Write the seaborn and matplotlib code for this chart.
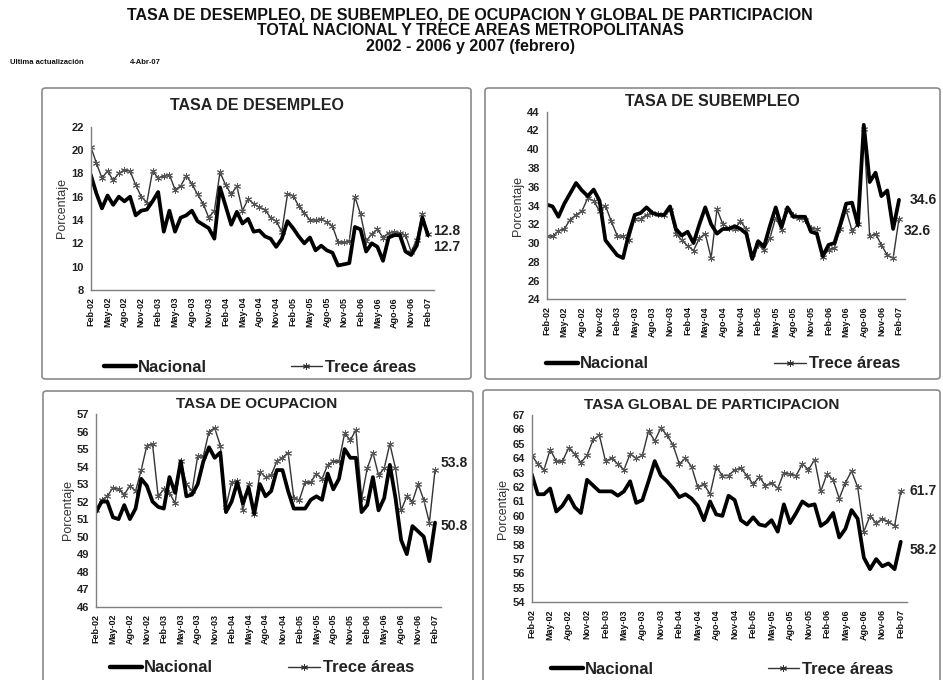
import numpy as np
import pandas as pd
import matplotlib
matplotlib.use("Agg")
import matplotlib.pyplot as plt
import seaborn as sns
from matplotlib.patches import FancyBboxPatch
from matplotlib.lines import Line2D

# Data, monthly Feb-02 .. Feb-07
tick_labels = ['Feb-02', 'May-02', 'Ago-02', 'Nov-02', 'Feb-03', 'May-03', 'Ago-03',
               'Nov-03', 'Feb-04', 'May-04', 'Ago-04', 'Nov-04', 'Feb-05', 'May-05',
               'Ago-05', 'Nov-05', 'Feb-06', 'May-06', 'Ago-06', 'Nov-06', 'Feb-07']

des_nacional = [17.9, 16.3, 15.0, 16.1, 15.3, 16.0, 15.6, 16.0, 14.4, 14.8,
                14.9, 15.6, 16.4, 13.0, 14.8, 13.0, 14.2, 14.4, 14.8, 13.9,
                13.6, 13.3, 12.4, 16.8, 15.2, 13.6, 14.7, 13.7, 14.1, 13.0,
                13.1, 12.6, 12.4, 11.7, 12.4, 13.9, 13.3, 12.6, 12.0, 12.5,
                11.4, 11.8, 11.4, 11.2, 10.1, 10.2, 10.3, 13.4, 13.2, 11.3,
                12.0, 11.7, 10.5, 12.5, 12.7, 12.7, 11.3, 11.0, 11.8, 14.2, 12.7]
des_trece = [20.3, 18.9, 17.6, 18.2, 17.4, 18.0, 18.3, 18.2, 17.0, 16.0,
             15.5, 18.2, 17.6, 17.8, 17.9, 16.6, 16.9, 17.8, 17.1, 16.2,
             15.4, 14.2, 14.8, 18.1, 17.0, 16.2, 16.9, 14.8, 15.8, 15.4,
             15.1, 14.9, 14.2, 13.9, 13.0, 16.2, 16.1, 15.2, 14.6, 14.0,
             14.0, 14.1, 13.8, 13.5, 12.1, 12.1, 12.2, 16.0, 14.5, 12.2,
             12.8, 13.2, 12.5, 12.9, 13.0, 12.9, 12.7, 11.3, 12.3, 14.5, 12.8]

sub_nacional = [34.1, 33.9, 32.8, 34.2, 35.3, 36.4, 35.6, 35.0, 35.7, 34.5,
                30.3, 29.5, 28.7, 28.4, 31.0, 33.0, 33.2, 33.8, 33.2, 33.0,
                33.0, 33.9, 31.5, 30.8, 31.2, 30.0, 32.0, 33.8, 32.0, 31.0,
                31.5, 31.5, 31.8, 31.5, 31.0, 28.3, 30.2, 29.6, 31.8, 33.8,
                31.7, 33.8, 32.8, 32.8, 32.8, 31.2, 31.0, 28.6, 29.8, 30.0,
                32.0, 34.2, 34.3, 31.9, 42.6, 36.5, 37.5, 35.0, 35.6, 31.5, 34.6]
sub_trece = [30.8, 30.7, 31.3, 31.5, 32.5, 33.0, 33.4, 34.8, 34.5, 33.4,
             34.0, 32.3, 30.8, 30.7, 30.3, 32.6, 32.6, 33.0, 33.2, 33.1,
             33.0, 33.5, 31.0, 30.3, 29.7, 29.2, 30.5, 31.0, 28.4, 33.6,
             32.0, 31.6, 31.5, 32.3, 31.5, 28.8, 29.8, 29.3, 30.5, 32.7,
             31.4, 33.5, 33.0, 32.7, 32.5, 31.6, 31.5, 28.5, 29.3, 29.5,
             31.5, 33.5, 31.3, 32.0, 42.2, 30.7, 31.0, 29.8, 28.7, 28.4, 32.6]

ocu_nacional = [51.4, 52.0, 52.0, 51.1, 51.0, 51.8, 51.0, 51.6, 53.3, 52.9,
                52.0, 51.7, 51.6, 53.4, 52.5, 54.3, 52.3, 52.4, 53.0, 54.3,
                55.1, 54.5, 54.8, 51.4, 52.0, 53.1, 51.9, 52.8, 51.3, 53.0,
                52.3, 52.6, 53.8, 53.8, 52.6, 51.6, 51.6, 51.6, 52.1, 52.3,
                52.1, 53.6, 52.7, 53.3, 55.0, 54.5, 54.5, 51.4, 51.8, 53.4,
                51.5, 52.2, 54.1, 52.2, 49.8, 49.0, 50.6, 50.3, 50.0, 48.6, 50.8]
ocu_trece = [51.5, 52.1, 52.3, 52.8, 52.7, 52.4, 52.9, 52.6, 53.8, 55.2,
             55.3, 52.3, 52.7, 52.5, 51.9, 54.3, 53.0, 52.6, 54.6, 54.6,
             56.0, 56.2, 55.2, 51.7, 53.1, 53.2, 51.5, 53.0, 51.3, 53.7,
             53.4, 53.5, 54.3, 54.5, 54.8, 52.2, 52.1, 53.1, 53.1, 53.6,
             53.3, 54.1, 54.3, 54.3, 55.9, 55.5, 56.1, 52.2, 53.9, 54.8,
             53.5, 53.9, 55.3, 53.9, 51.5, 52.3, 52.0, 53.0, 52.1, 50.8, 53.8]

glo_nacional = [62.9, 61.5, 61.5, 61.9, 60.3, 60.7, 61.4, 60.6, 60.2, 62.5,
                62.1, 61.7, 61.7, 61.7, 61.4, 61.7, 62.4, 60.9, 61.1, 62.4,
                63.8, 62.8, 62.4, 61.9, 61.3, 61.5, 61.2, 60.7, 59.7, 61.0,
                60.1, 60.0, 61.4, 61.1, 59.7, 59.4, 59.9, 59.4, 59.3, 59.7,
                58.9, 60.8, 59.5, 60.2, 61.0, 60.7, 60.8, 59.3, 59.6, 60.2,
                58.5, 59.1, 60.4, 59.8, 57.1, 56.3, 57.0, 56.5, 56.7, 56.3, 58.2]
glo_trece = [64.2, 63.6, 63.2, 64.6, 63.8, 63.8, 64.7, 64.3, 63.7, 64.2,
             65.3, 65.6, 63.8, 64.0, 63.6, 63.2, 64.3, 64.0, 64.2, 65.9,
             65.2, 66.1, 65.6, 64.9, 63.6, 64.0, 63.4, 62.0, 62.2, 61.5,
             63.4, 62.8, 62.8, 63.2, 63.3, 62.8, 62.2, 62.7, 62.1, 62.3,
             61.9, 63.0, 62.9, 62.8, 63.6, 63.2, 63.9, 61.7, 62.9, 62.5,
             61.2, 62.3, 63.1, 62.0, 58.9, 60.0, 59.5, 59.8, 59.6, 59.3, 61.7]

sns.set_style("white")
plt.rcParams['font.family'] = ['Liberation Sans', 'DejaVu Sans']

W, H = 943, 680
fig = plt.figure(figsize=(W / 100, H / 100), dpi=100)


def fx(px):
    return px / W


def fy(py):
    return 1 - py / H


# header
fig.text(fx(470), fy(15.5), 'TASA DE DESEMPLEO, DE SUBEMPLEO, DE OCUPACION Y GLOBAL DE PARTICIPACION',
         ha='center', va='center', fontsize=11.5, fontweight='bold', color='#111')
fig.text(fx(470), fy(30.5), 'TOTAL NACIONAL Y TRECE AREAS METROPOLITANAS',
         ha='center', va='center', fontsize=11.5, fontweight='bold', color='#111')
fig.text(fx(470), fy(46), '2002 - 2006 y 2007 (febrero)',
         ha='center', va='center', fontsize=11.5, fontweight='bold', color='#111')
fig.text(fx(10), fy(62), 'Ultima actualización', ha='left', va='center',
         fontsize=5.5, fontweight='bold', color='#111')
fig.text(fx(130), fy(62), '4-Abr-07', ha='left', va='center',
         fontsize=5.5, fontweight='bold', color='#111')

# panels: box, axes extents (px), limits, title, legend, end labels
panels = [
    dict(nac=des_nacional, tre=des_trece, title='TASA DE DESEMPLEO', tsize=11.5,
         box=(42, 88, 471, 379), ax=(90.7, 126.7, 433.6, 290), ylim=(8, 22), step=2,
         title_xy=(257, 106), leg=(260, 367, 5.0),
         lab_tre=(61.0, 13.1), lab_nac=(61.0, 11.7)),
    dict(nac=sub_nacional, tre=sub_trece, title='TASA DE SUBEMPLEO', tsize=11.5,
         box=(485, 88, 940, 379), ax=(546.7, 111.7, 904.9, 299.3), ylim=(24, 44), step=2,
         title_xy=(712, 102), leg=(723, 364, 7.5),
         lab_nac=(61.9, 34.6), lab_tre=(60.8, 31.3)),
    dict(nac=ocu_nacional, tre=ocu_trece, title='TASA DE OCUPACION', tsize=11,
         box=(43, 391, 473, 700), ax=(96, 414, 440.7, 606.7), ylim=(46, 57), step=1,
         title_xy=(257, 404), leg=(262, 668, 4.5),
         lab_tre=(60.9, 54.2), lab_nac=(60.9, 50.6)),
    dict(nac=glo_nacional, tre=glo_trece, title='TASA GLOBAL DE PARTICIPACION', tsize=11,
         box=(483, 390, 940, 700), ax=(531.7, 415, 906.9, 602.3), ylim=(54, 67), step=1,
         title_xy=(712, 405), leg=(722, 669, 6.8),
         lab_tre=(61.4, 61.7), lab_nac=(61.4, 57.6)),
]

star = (6, 2, 0)

for p in panels:
    x0, y0, x1, y1 = p['box']
    fig.patches.append(FancyBboxPatch((fx(x0), fy(y1)), fx(x1 - x0), (y1 - y0) / H,
                                      boxstyle='round,pad=0,rounding_size=0.004',
                                      transform=fig.transFigure, fill=False,
                                      edgecolor='#8a8a8a', linewidth=1.2))
    l, t, r, b = p['ax']
    ax = fig.add_axes([fx(l), fy(b), fx(r - l), (b - t) / H])

    df = pd.DataFrame({'mes': np.arange(len(p['nac'])),
                       'Nacional': p['nac'], 'Trece': p['tre']})
    sns.lineplot(data=df, x='mes', y='Trece', ax=ax, color='#333333', linewidth=1.0,
                 marker=star, markersize=5, markeredgewidth=0.7, markeredgecolor='#555555')
    sns.lineplot(data=df, x='mes', y='Nacional', ax=ax, color='black', linewidth=2.7)

    ax.set_xlim(0, 61)
    ax.set_ylim(*p['ylim'])
    ax.set_yticks(np.arange(p['ylim'][0], p['ylim'][1] + 0.1, p['step']))
    ax.set_xticks(np.arange(0, 61, 3))
    ax.set_xticklabels(tick_labels, rotation=90, fontsize=6.5, fontweight='bold', color='#111')
    for lab in ax.get_yticklabels():
        lab.set_fontweight('bold')
        lab.set_fontsize(8)
        lab.set_color('#222')
    ax.set_xlabel('')
    ax.set_ylabel('Porcentaje', fontsize=9, color='#333', labelpad=2)
    sns.despine(ax=ax)
    for s in ('left', 'bottom'):
        ax.spines[s].set_color('#7f7f7f')
        ax.spines[s].set_linewidth(1.0)
    ax.tick_params(axis='both', direction='out', length=3, width=0.8, color='#7f7f7f', pad=2)
    ax.patch.set_alpha(0)

    ax.text(*p['lab_tre'], f"{p['tre'][-1]:.1f}", fontsize=10, fontweight='bold',
            color='#222', ha='left', va='center', clip_on=False)
    ax.text(*p['lab_nac'], f"{p['nac'][-1]:.1f}", fontsize=10, fontweight='bold',
            color='#222', ha='left', va='center', clip_on=False)

    fig.text(fx(p['title_xy'][0]), fy(p['title_xy'][1]), p['title'], ha='center',
             va='center', fontsize=p['tsize'], fontweight='bold', color='#222')

    handles = [Line2D([], [], color='black', linewidth=3.2),
               Line2D([], [], color='#333333', linewidth=1.0, marker=star, markersize=5,
                      markeredgewidth=0.7)]
    lx, ly, cs = p['leg']
    leg = ax.legend(handles, ['Nacional', 'Trece áreas'], loc='center',
                    bbox_to_anchor=(fx(lx), fy(ly)), bbox_transform=fig.transFigure,
                    ncol=2, frameon=False, handlelength=1.9, handletextpad=0.15,
                    columnspacing=cs, prop={'weight': 'bold', 'size': 12})
    for txt in leg.get_texts():
        txt.set_color('#222')

fig.savefig('out.png', dpi=100)
